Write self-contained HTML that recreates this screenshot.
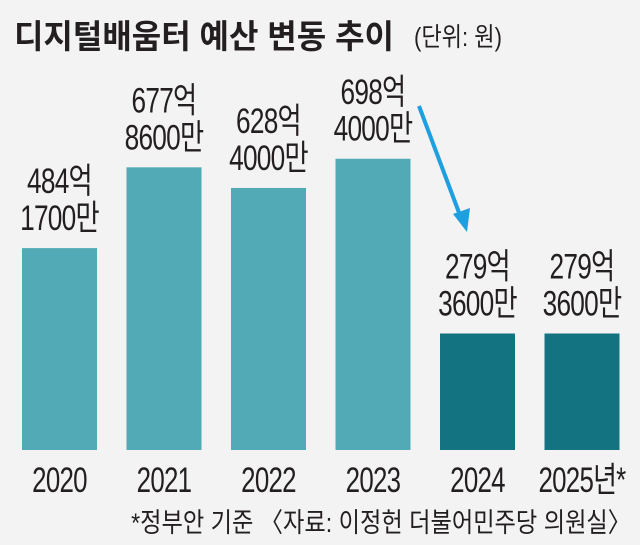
<!DOCTYPE html>
<html><head><meta charset="utf-8"><style>
body{margin:0;background:#f3f3f3;}
svg{display:block;font-family:"Liberation Sans","Noto Sans CJK KR",sans-serif;}
</style></head><body>
<svg width="640" height="545" viewBox="0 0 640 545">
<rect width="640" height="545" fill="#f3f3f3"/>
<text x="14" y="48" font-size="33" font-weight="bold" fill="#231f20" transform="translate(14 0) scale(0.97 1) translate(-14 0)">디지털배움터 예산 변동 추이</text>
<text x="414" y="46" font-size="26" fill="#231f20" transform="translate(414 0) scale(0.85 1) translate(-414 0)">(단위: 원)</text>
<line x1="419" y1="106" x2="461" y2="218" stroke="#1d9fe0" stroke-width="4"/>
<polygon points="467,232 453,214 470,208" fill="#1d9fe0"/>
<g id="bars"></g>
<text x="631" y="532" text-anchor="end" font-size="27" fill="#231f20" transform="translate(631 0) scale(0.86 1) translate(-631 0)">*정부안 기준 〈자료: 이정헌 더불어민주당 의원실〉</text>
</svg>
<script>
const years=["2020","2021","2022","2023","2024","2025년*"];
const values=[484.17,677.86,628.4,698.4,279.36,279.36];
const line1=["484억","677억","628억","698억","279억","279억"];
const line2=["1700만","8600만","4000만","4000만","3600만","3600만"];
const dark=[false,false,false,false,true,true];
const base=450, x0=22, pitch=104.5, bw=75;
function yScale(v){return base-0.417*v;}
function xScale(i){return x0+i*pitch;}
const g=document.getElementById('bars');
const NS="http://www.w3.org/2000/svg";
years.forEach((yr,i)=>{
  const x=xScale(i), y=yScale(values[i]), cx=x+bw/2;
  const r=document.createElementNS(NS,'rect');
  r.setAttribute('x',x);r.setAttribute('y',y);r.setAttribute('width',bw);r.setAttribute('height',base-y);
  r.setAttribute('fill',dark[i]?'#147380':'#52aab6');
  
  
  g.appendChild(r);
  [[line1[i],y-55],[line2[i],y-18]].forEach((p,k)=>{
    const t=document.createElementNS(NS,'text');
    t.setAttribute('x',cx);t.setAttribute('y',p[1]);t.setAttribute('text-anchor','middle');
    t.setAttribute('font-size','35');t.setAttribute('fill','#231f20');
    t.setAttribute('transform',`translate(${cx} 0) scale(0.75 1) translate(${-cx} 0)`);
    t.setAttribute('letter-spacing','-1');
    t.textContent=p[0];
    
    
    g.appendChild(t);
  });
  const yl=document.createElementNS(NS,'text');
  yl.setAttribute('x',cx);yl.setAttribute('y',492);yl.setAttribute('text-anchor','middle');
  yl.setAttribute('font-size','35');yl.setAttribute('fill','#231f20');
  yl.setAttribute('letter-spacing','-1');
  yl.setAttribute('transform',`translate(${cx} 0) scale(0.74 1) translate(${-cx} 0)`);
  yl.textContent=yr;
  
  
  g.appendChild(yl);
});
</script>
</body></html>
